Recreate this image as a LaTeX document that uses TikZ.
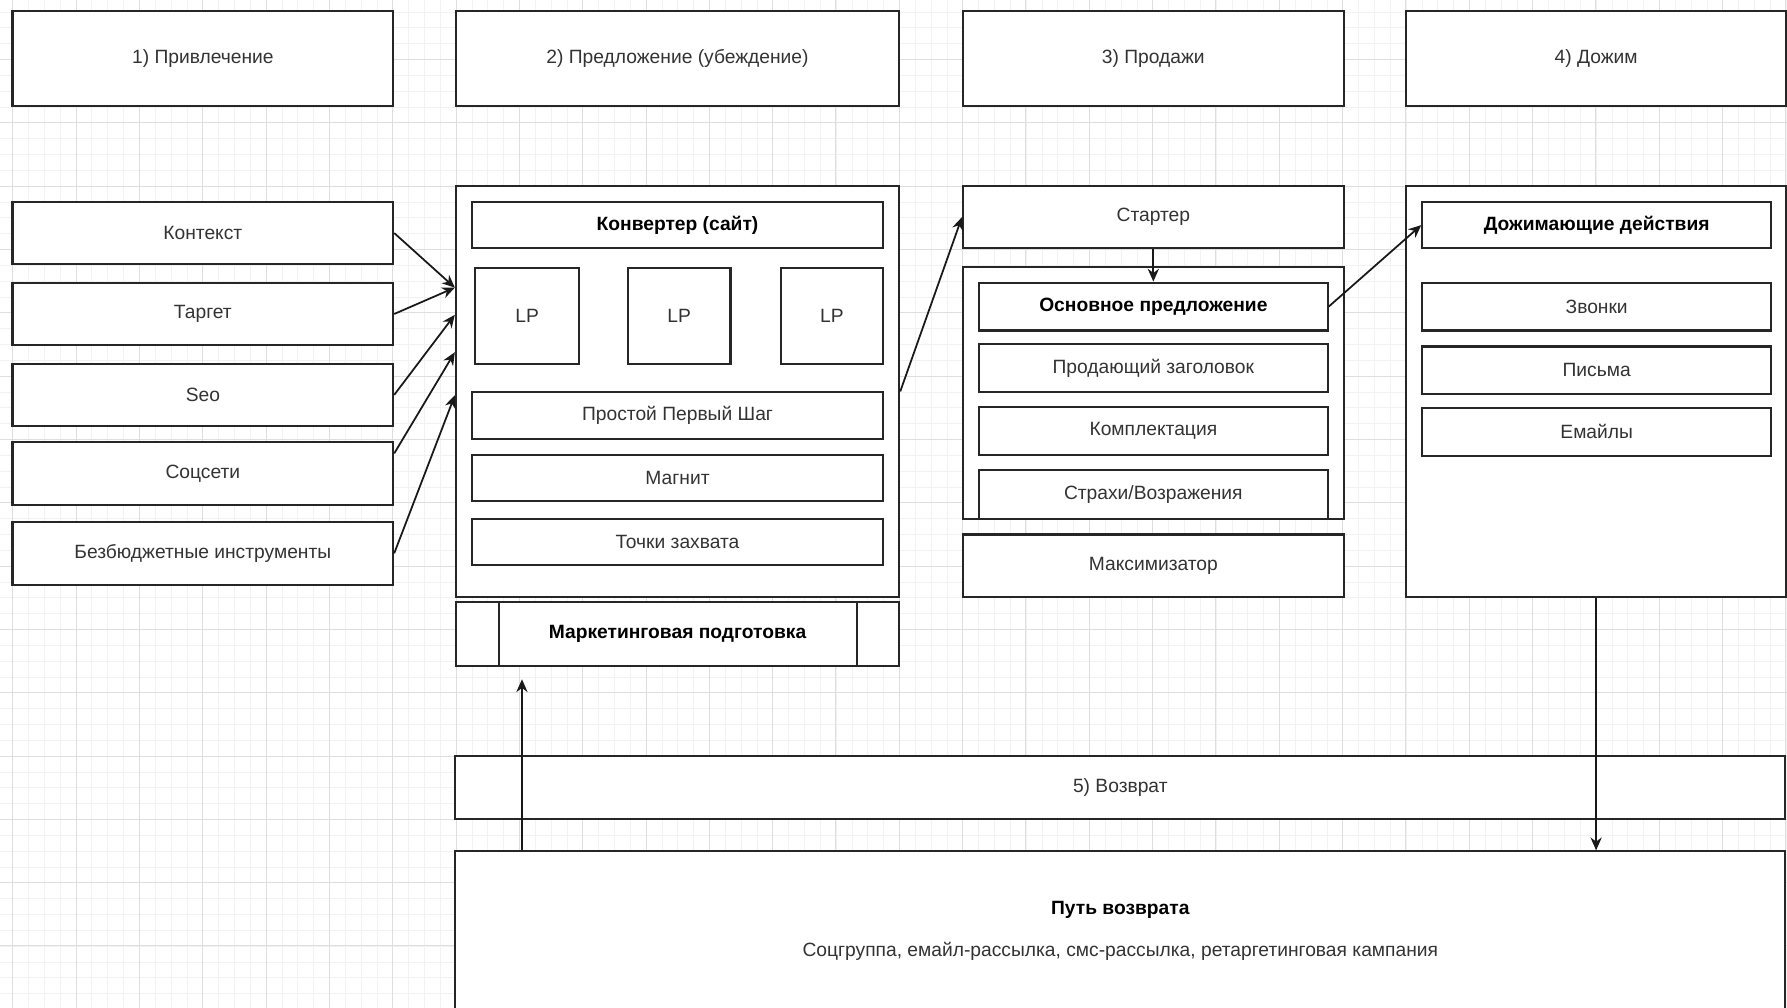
\documentclass[tikz,border=0pt]{standalone}
\usepackage{fontspec}
\setmainfont{Liberation Sans}
\usetikzlibrary{arrows.meta}

\tikzset{
  box/.style={draw=black!85, line width=1.3pt, fill=white, inner sep=2pt,
    font=\fontsize{12}{14}\selectfont, text=black!80},
  sz/.style 2 args={minimum width=#1*0.025cm, minimum height=#2*0.025cm},
  heavy/.style={font=\fontsize{12}{14}\selectfont\bfseries, text=black},
  arr/.style={draw=black!90, line width=1.1pt, -{Stealth[length=8pt,width=7pt]}},
}

\begin{document}
\begin{tikzpicture}[x=0.025cm, y=-0.025cm]
\useasboundingbox (0,0) rectangle (1568,883.6);
\clip (0,0) rectangle (1568,883.6);
\fill[white] (0,0) rectangle (1568,883.6);
% background grid
\begin{scope}[shift={(11.1,-3.5)}]
\draw[black!5, line width=0.4pt, step=0.34725cm] (-20,-20) grid (1600,900);
\draw[black!13, line width=0.5pt, step=1.38875cm] (-20,-20) grid (1600,900);
\end{scope}

% stages
\node[box, sz={334}{83}] (st1) at (178,51.5) {1) Привлечение};
\node[box, sz={389}{83}] (st2) at (594.5,51.5) {2) Предложение (убеждение)};
\node[box, sz={334}{83}] (st3) at (1012,51.5) {3) Продажи};
\node[box, sz={333}{83}] (st4) at (1400.5,51.5) {4) Дожим};

% sources
\node[box, sz={334}{55}] (kon) at (178,204.5) {Контекст};
\node[box, sz={334}{55}] (tar) at (178,275.5) {Таргет};
\node[box, sz={334}{55}] (seo) at (178,346.5) {Seo};
\node[box, sz={334}{55}] (soc) at (178,415.5) {Соцсети};
\node[box, sz={334}{55}] (bez) at (178,485.5) {Безбюджетные инструменты};

% converter
\node[box, sz={389}{361}] (b2) at (594.5,343.5) {};
\node[box, heavy, sz={361}{41}] (konv) at (594.5,197.5) {Конвертер (сайт)};
\node[box, sz={91}{84}] (lp1) at (462.5,277) {LP};
\node[box, sz={90}{84}] (lp2) at (596,277) {LP};
\node[box, sz={90}{84}] (lp3) at (730,277) {LP};
\node[box, sz={361}{41}] (prost) at (594.5,364.5) {Простой Первый Шаг};
\node[box, sz={361}{41}] (magn) at (594.5,419.5) {Магнит};
\node[box, sz={361}{41}] (toch) at (594.5,475.5) {Точки захвата};
\node[box, heavy, sz={389}{56}] (mk) at (594.5,556) {Маркетинговая подготовка};
\draw[draw=black!85, line width=1.3pt] ([xshift=0.975cm]mk.north west) -- ([xshift=0.975cm]mk.south west);
\draw[draw=black!85, line width=1.3pt] ([xshift=-0.95cm]mk.north east) -- ([xshift=-0.95cm]mk.south east);

% sales
\node[box, sz={334}{55}] (start) at (1012,190.5) {Стартер};
\node[box, sz={334}{221}] (c3) at (1012,344.5) {};
\node[box, heavy, sz={306}{42}] (osn) at (1012,269) {Основное предложение};
\node[box, sz={306}{42}] (prod) at (1012,323) {Продающий заголовок};
\node[box, sz={306}{42}] (kompl) at (1012,378) {Комплектация};
\node[box, sz={306}{43}] (strah) at (1012,433.5) {Страхи/Возражения};
\node[box, sz={334}{55}] (maks) at (1012,496.5) {Максимизатор};

% push
\node[box, sz={333}{361}] (c4) at (1400.5,343.5) {};
\node[box, heavy, sz={306}{41}] (dozh) at (1401,197.5) {Дожимающие действия};
\node[box, sz={306}{42}] (zv) at (1401,269) {Звонки};
\node[box, sz={306}{42}] (pis) at (1401,325) {Письма};
\node[box, sz={306}{42}] (em) at (1401,379) {Емайлы};

% return
\node[box, sz={1167}{56}] (voz) at (983,691) {5) Возврат};
\node[box, sz={1167}{170}] (put) at (983,832) {};
\node[heavy] (putT) at (983,798) {Путь возврата};
\node[font=\fontsize{12}{14}\selectfont, text=black!80] (putS) at (983,835)
  {Соцгруппа, емайл-рассылка, смс-рассылка, ретаргетинговая кампания};

% connectors
\draw[arr] (kon.east) -- (b2.155);
\draw[arr] (tar.east) -- (b2.155);
\draw[arr] (seo.east) -- (b2.161);
\draw[arr] (soc.6) -- (b2.170);
\draw[arr] (bez.east) -- (b2.181);
\draw[arr] (b2.east) -- (start.west);
\draw[arr] (start.south) -- (osn.north);
\draw[arr] (osn.east) -- (dozh.west);
\draw[arr] (c4.south) -- (c4.south |- put.north);
\coordinate (mkin) at (458,596);
\draw[arr] (mkin |- put.north) -- (mkin);
\end{tikzpicture}
\end{document}
